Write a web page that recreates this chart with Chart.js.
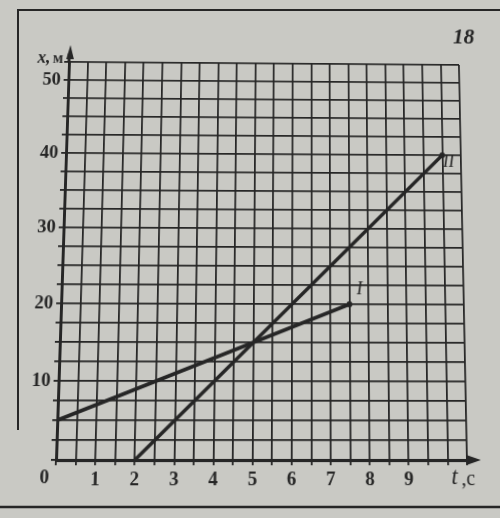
<!DOCTYPE html>
<html>
<head>
<meta charset="utf-8">
<script src="https://cdn.jsdelivr.net/npm/chart.js@4/dist/chart.umd.min.js"></script>
<style>
  html, body { margin: 0; padding: 0; background: #c9c9c4; overflow: hidden; }
  #wrap { width: 500px; height: 518px; position: relative; overflow: hidden; background: #c9c9c4; }
  #c { position: absolute; left: -30px; top: -30px; transform-origin: 0 0; }
  #sheet { position: absolute; left: 0; top: 0; }
</style>
</head>
<body>
<div id="wrap">
  <canvas id="c" width="560" height="580"></canvas>
  <canvas id="sheet" width="500" height="518"></canvas>
</div>
<script>
// Motion graphs x(t) for two bodies
const seriesNames = ['I', 'II'];
const timesI = [0, 7.5];
const positionsI = [5, 20];
const timesII = [2, 10];
const positionsII = [0, 40];

// Labelled ticks
const tTickLabels = [1, 2, 3, 4, 5, 6, 7, 8, 9];
const xTickLabels = [10, 20, 30, 40, 50];

const ink = '#262626';
const paper = '#c9c9c4';
const serif = '"Liberation Serif", "DejaVu Serif", serif';
const OFF = 30; // canvas overhang on the left and top

function toPoints(ts, xs) {
  return ts.map((t, i) => ({ x: t, y: xs[i] }));
}

// Page rules around the figure
(function drawSheet() {
  const ctx = document.getElementById('sheet').getContext('2d');
  ctx.strokeStyle = ink;
  ctx.lineWidth = 2;
  ctx.beginPath();
  ctx.moveTo(18, 430); ctx.lineTo(18, 10); ctx.lineTo(500, 10);
  ctx.stroke();
  ctx.lineWidth = 2.5;
  ctx.beginPath();
  ctx.moveTo(0, 507); ctx.lineTo(500, 507);
  ctx.stroke();
})();

// The printed sheet is slightly tilted: map the flat plot rectangle onto that quadrilateral.
function homography(src, dst) {
  const A = [], b = [];
  for (let i = 0; i < 4; i++) {
    const [x, y] = src[i], [u, v] = dst[i];
    A.push([x, y, 1, 0, 0, 0, -u * x, -u * y]); b.push(u);
    A.push([0, 0, 0, x, y, 1, -v * x, -v * y]); b.push(v);
  }
  const n = 8;
  for (let c = 0; c < n; c++) {
    let p = c;
    for (let r = c + 1; r < n; r++) if (Math.abs(A[r][c]) > Math.abs(A[p][c])) p = r;
    [A[c], A[p]] = [A[p], A[c]]; [b[c], b[p]] = [b[p], b[c]];
    for (let r = 0; r < n; r++) {
      if (r === c) continue;
      const f = A[r][c] / A[c][c];
      for (let k = c; k < n; k++) A[r][k] -= f * A[c][k];
      b[r] -= f * b[c];
    }
  }
  return b.map((v, i) => v / A[i][i]);
}
const flatCorners = [[56, 61], [467, 61], [467, 460], [56, 460]]
  .map(([x, y]) => [x + OFF, y + OFF]);
const sheetCorners = [[69, 62], [459, 65], [467, 460], [56, 460]]
  .map(([x, y]) => [x + OFF, y + OFF]);
const [ha, hb, hc, hd, he, hf, hg, hh] = homography(flatCorners, sheetCorners);
document.getElementById('c').style.transform =
  `matrix3d(${ha},${hd},0,${hg},${hb},${he},0,${hh},0,0,1,0,${hc},${hf},0,1)`;

// Paper tone behind everything
const paperFill = {
  id: 'paperFill',
  beforeDraw(chart) {
    const ctx = chart.ctx;
    ctx.save();
    ctx.fillStyle = paper;
    ctx.fillRect(0, 0, chart.width, chart.height);
    ctx.restore();
  }
};

// Axis arrows, axis names, figure number and line labels
const decorations = {
  id: 'decorations',
  afterDraw(chart) {
    const ctx = chart.ctx;
    const xs = chart.scales.x, ys = chart.scales.y;
    const ox = xs.getPixelForValue(0), oy = ys.getPixelForValue(0);
    const right = xs.getPixelForValue(10.5), top = ys.getPixelForValue(52.5);
    ctx.save();
    ctx.strokeStyle = ink;
    ctx.fillStyle = ink;

    // t axis arrow
    ctx.lineWidth = 3;
    ctx.beginPath();
    ctx.moveTo(right, oy); ctx.lineTo(right + 5, oy);
    ctx.stroke();
    ctx.beginPath();
    ctx.moveTo(right + 14, oy); ctx.lineTo(right - 1, oy - 5); ctx.lineTo(right - 1, oy + 5); ctx.closePath();
    ctx.fill();

    // x axis arrow
    ctx.beginPath();
    ctx.moveTo(ox, top); ctx.lineTo(ox, top - 9);
    ctx.stroke();
    ctx.beginPath();
    ctx.moveTo(ox + 1, top - 18); ctx.lineTo(ox - 3, top - 3); ctx.lineTo(ox + 5, top - 3); ctx.closePath();
    ctx.fill();

    // fixed-position text, in page units
    ctx.translate(OFF, OFF);

    // origin
    ctx.font = 'bold 19px ' + serif;
    ctx.textAlign = 'center';
    ctx.textBaseline = 'middle';
    ctx.fillText('0', 45, 477);

    // axis names
    ctx.textAlign = 'left';
    ctx.font = 'italic bold 18px ' + serif;
    ctx.fillText('x,', 23, 57);
    ctx.font = 'bold 16px ' + serif;
    ctx.fillText('м', 39, 58);
    ctx.font = 'italic 23px ' + serif;
    ctx.fillText('t', 451, 477);
    ctx.font = '20px ' + serif;
    ctx.fillText(',c', 461, 479);

    // figure number
    ctx.font = 'italic bold 23px ' + serif;
    ctx.fillText('18', 461, 32);

    // line labels
    ctx.font = 'italic 18px ' + serif;
    ctx.fillText(seriesNames[0], 357, 293);
    ctx.fillText(seriesNames[1], 448, 163);
    ctx.restore();
  }
};

new Chart(document.getElementById('c'), {
  type: 'scatter',
  data: {
    datasets: [
      {
        label: seriesNames[0],
        data: toPoints(timesI, positionsI),
        showLine: true,
        borderColor: ink,
        backgroundColor: ink,
        borderWidth: 3.5,
        pointRadius: [0, 3],
        pointBorderWidth: 0
      },
      {
        label: seriesNames[1],
        data: toPoints(timesII, positionsII),
        showLine: true,
        borderColor: ink,
        backgroundColor: ink,
        borderWidth: 3.5,
        pointRadius: [0, 3],
        pointBorderWidth: 0
      }
    ]
  },
  options: {
    responsive: false,
    animation: false,
    events: [],
    layout: { padding: { left: OFF, top: 61 + OFF, right: 560 - 467 - OFF, bottom: 580 - 460 - OFF - 58 } },
    plugins: { legend: { display: false }, tooltip: { enabled: false } },
    scales: {
      x: {
        type: 'linear',
        min: 0,
        max: 10.5,
        afterFit(scale) { scale.height = 58; },
        afterBuildTicks(scale) {
          const t = [];
          for (let i = 0; i <= 21; i++) t.push({ value: i * 0.5 });
          scale.ticks = t;
        },
        ticks: {
          autoSkip: false,
          maxRotation: 0,
          padding: 3,
          color: ink,
          font: { family: serif, size: 19, weight: 'bold' },
          callback: v => (tTickLabels.includes(v) ? String(v) : '')
        },
        grid: { color: ink, lineWidth: 1.8, tickLength: 5, tickColor: ink, tickWidth: 1.8 },
        border: { color: ink, width: 3 }
      },
      y: {
        type: 'linear',
        min: 0,
        max: 52.5,
        afterFit(scale) { scale.width = 56; },
        afterBuildTicks(scale) {
          const t = [];
          for (let i = 0; i <= 21; i++) t.push({ value: i * 2.5 });
          scale.ticks = t;
        },
        ticks: {
          autoSkip: false,
          padding: 3,
          color: ink,
          font: { family: serif, size: 19, weight: 'bold' },
          callback: v => (xTickLabels.includes(v) ? String(v) : '')
        },
        grid: { color: ink, lineWidth: 1.8, tickLength: 5, tickColor: ink, tickWidth: 1.8 },
        border: { color: ink, width: 3 }
      }
    }
  },
  plugins: [paperFill, decorations]
});
</script>
</body>
</html>
